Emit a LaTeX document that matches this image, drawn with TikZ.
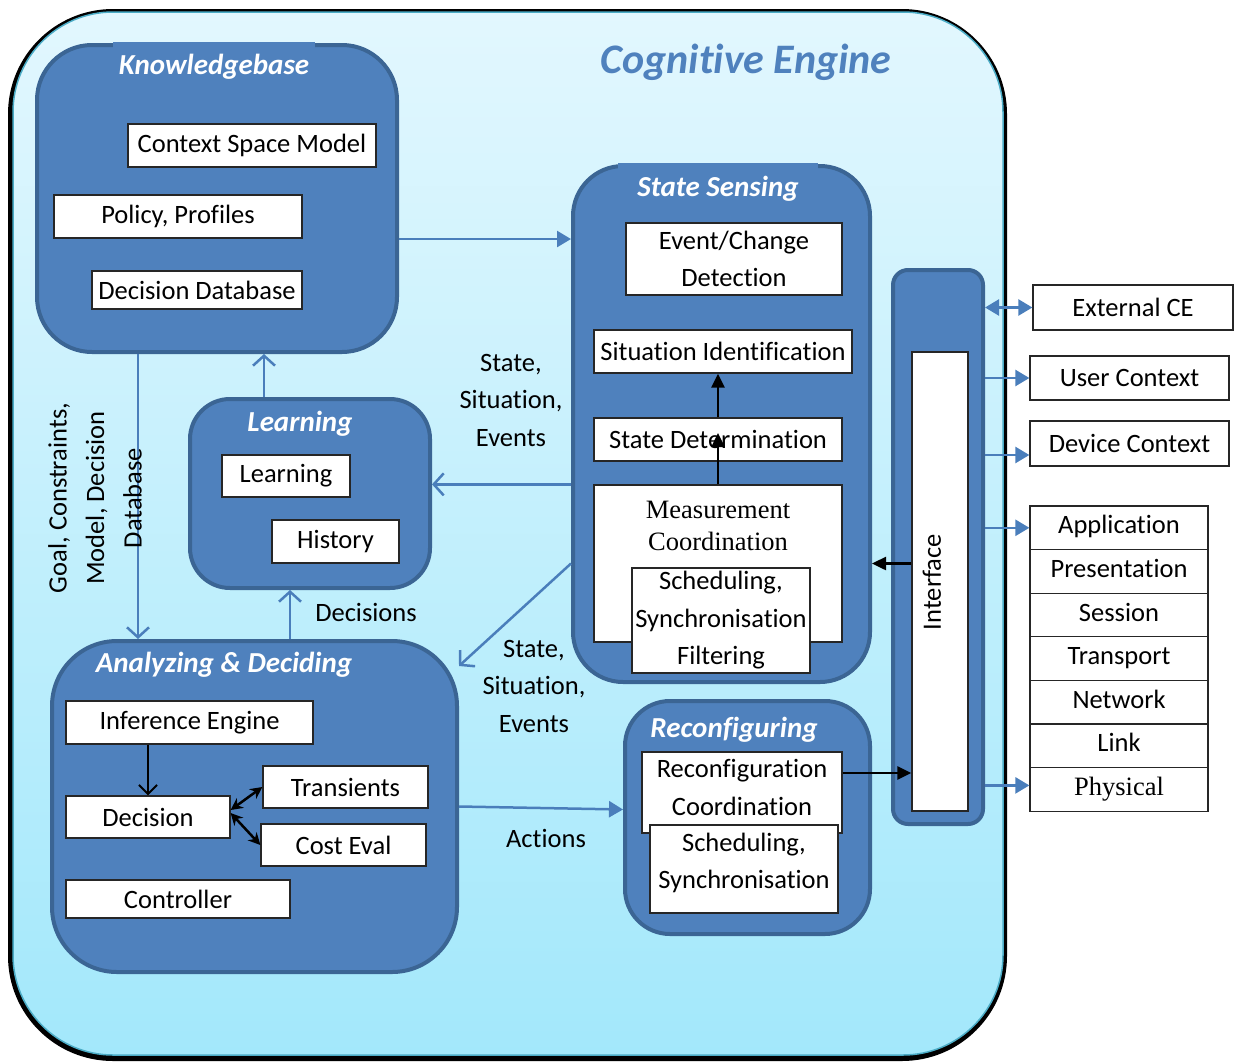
\documentclass[tikz,border=0pt]{standalone}
\usepackage{fontspec}
\setmainfont{Carlito}[Ligatures={NoCommon}]
\newfontfamily\timesfont{Liberation Serif}
\usetikzlibrary{arrows.meta}

\definecolor{modblue}{HTML}{4F81BD}
\definecolor{modborder}{HTML}{3B6594}
\definecolor{arrowblue}{HTML}{4A7EBB}
\definecolor{bgtop}{HTML}{E2F7FE}
\definecolor{bgbot}{HTML}{A3E8FB}
\definecolor{edgecyan}{HTML}{4BACC6}
\definecolor{titleblue}{HTML}{4F81BD}

\begin{document}
\begin{tikzpicture}[x=1pt,y=-1pt]
	\tikzstyle{module} = [draw=modborder, fill=modblue, line width=4pt, inner sep=0pt];
	\tikzstyle{item} = [draw=black!85, fill=white, line width=1.3pt, inner sep=0pt, align=center, font={\fontsize{26.5}{37.5}\selectfont}];
	\tikzstyle{head} = [text=white, inner sep=0pt, font={\fontsize{29}{32}\selectfont\bfseries\itshape}];
	\tikzstyle{note} = [align=center, inner sep=0pt, font={\fontsize{26.5}{37.5}\selectfont}];
	\tikzstyle{feed} = [-{Straight Barb[length=10pt,width=22pt]}, arrowblue, line width=2.5pt];
	\tikzstyle{push} = [-{Triangle[length=14pt,width=16pt]}, arrowblue, line width=2.5pt];
	\tikzstyle{ctrl} = [-{Triangle[length=14pt,width=13pt]}, black, line width=2.5pt];

	\useasboundingbox (0,0) rectangle (1234,1063);

	% cognitive engine frame
	\fill[black, rounded corners=105pt] (8,9) rectangle (1007,1061);
	\shade[top color=bgtop, bottom color=bgbot, draw=edgecyan, line width=1.5pt, rounded corners=100pt] (13,12) rectangle (1003,1055);
	\node[font={\fontsize{42}{44}\selectfont\bfseries\itshape}, text=titleblue] (title) at (746,62) {Cognitive Engine};

	% knowledgebase
	\node[module, rounded corners=55pt, minimum width=360pt, minimum height=307pt] (kb) at (217,198.5) {};
	\node[head, fill=modblue, minimum width=202pt, minimum height=50pt] (kbhead) at (214,67) {Knowledgebase};
	\node[item, minimum width=248pt, minimum height=43pt] (csm) at (252,145.5) {Context Space Model};
	\node[item, minimum width=248pt, minimum height=43pt] (pol) at (178,216.5) {Policy, Profiles};
	\node[item, minimum width=210pt, minimum height=38pt] (ddb) at (197,290) {Decision Database};

	% state sensing
	\node[module, rounded corners=50pt, minimum width=297pt, minimum height=516pt] (ss) at (721.5,424) {};
	\node[head, fill=modblue, minimum width=200pt, minimum height=52pt] (sshead) at (718,189) {State Sensing};
	\node[item, minimum width=216pt, minimum height=72pt] (evd) at (734,259) {Event/Change\\Detection};
	\node[item, minimum width=258pt, minimum height=43pt] (sit) at (723,351.5) {Situation Identification};
	\node[item, minimum width=248pt, minimum height=43pt] (sdt) at (718,439.5) {State Determination};
	\node[item, minimum width=248pt, minimum height=157pt] (meas) at (718,563.5) {};
	\node[note, font={\timesfont\fontsize{26.5}{32}\selectfont}] (meastext) at (718,526) {Measurement\\Coordination};
	\node[item, minimum width=178pt, minimum height=105pt] (msch) at (721,620.5) {Scheduling,\\Synchronisation\\Filtering};
	\draw[ctrl] (sdt.north) -- (sdt.north |- sit.south);
	\draw[ctrl] (meas.north) -- ([yshift=6.5pt]sdt.center);

	% learning
	\node[module, rounded corners=40pt, minimum width=240pt, minimum height=189pt] (lm) at (310,493.5) {};
	\node[head] (lmhead) at (300,424) {Learning};
	\node[item, minimum width=128pt, minimum height=42pt] (lrn) at (286,476) {Learning};
	\node[item, minimum width=127pt, minimum height=43pt] (hist) at (335.5,541.5) {History};

	% analyzing and deciding
	\node[module, rounded corners=65pt, minimum width=405pt, minimum height=331pt] (ad) at (254.5,806.5) {};
	\node[head] (adhead) at (224,665) {Analyzing \& Deciding};
	\node[item, minimum width=247pt, minimum height=43pt] (inf) at (189.5,722.5) {Inference Engine};
	\node[item, minimum width=164pt, minimum height=42pt] (dec) at (148,817) {Decision};
	\node[item, minimum width=165pt, minimum height=42pt] (trn) at (345.5,787) {Transients};
	\node[item, minimum width=165pt, minimum height=42pt] (cost) at (343.5,845) {Cost Eval};
	\node[item, minimum width=224pt, minimum height=38pt] (ctl) at (178,899) {Controller};
	\draw[-{Straight Barb[length=9pt,width=18pt]}, black, line width=2pt] (dec.north |- inf.south) -- (dec.north);
	\draw[{Stealth[length=12pt,width=12pt]}-{Stealth[length=12pt,width=12pt]}, black, line width=2.5pt] ([yshift=7pt]dec.east) -- (trn.west);
	\draw[{Stealth[length=12pt,width=12pt]}-{Stealth[length=12pt,width=12pt]}, black, line width=2.5pt] ([yshift=4pt]dec.east) -- (cost.west);

	% reconfiguring
	\node[module, rounded corners=45pt, minimum width=245pt, minimum height=233pt] (rc) at (747.5,817.5) {};
	\node[head] (rchead) at (734,730) {Reconfiguring};
	\node[item, minimum width=200pt, minimum height=81pt] (rcc) at (742,792.5) {};
	\node[note] (rcctext) at (742,787.5) {Reconfiguration\\Coordination};
	\node[item, minimum width=188pt, minimum height=88pt] (rsch) at (744,869) {};
	\node[note] (rschtext) at (744,863) {Scheduling,\\Synchronisation};

	% interface
	\node[module, rounded corners=15pt, minimum width=90pt, minimum height=554pt] (ifc) at (938,547) {};
	\node[item, minimum width=56pt, minimum height=459pt] (ifcin) at (940,581.5) {};
	\node[note, rotate=90] (ifctext) at (932,582) {Interface};
	\draw[ctrl] (ifcin.west |- meas.center) -- (ss.east |- meas.center);
	\draw[ctrl] ([yshift=19.5pt]rcc.east) -- ([yshift=19.5pt]rcc.east -| ifcin.west);

	% outside the engine
	\node[item, minimum width=200pt, minimum height=45pt] (ext) at (1133,307.5) {External CE};
	\node[item, minimum width=199pt, minimum height=44pt] (usr) at (1129.5,378) {User Context};
	\node[item, minimum width=199pt, minimum height=45pt] (dev) at (1129.5,443.5) {Device Context};
	\foreach \lyr [count=\i] in {Application,Presentation,Session,Transport,Network,Link} {
		\node[item, minimum width=178pt, minimum height=43.6pt, text height=18pt, text depth=6pt] (l\i) at (1119,{484.2+43.6*\i}) {\lyr};
	}
	\node[item, minimum width=178pt, minimum height=43.6pt, text height=18pt, text depth=6pt, font={\timesfont\fontsize{26.5}{30}\selectfont}] (l7) at (1119,789.4) {Physical};

	\draw[{Triangle[length=14pt,width=16pt]}-{Triangle[length=14pt,width=16pt]}, arrowblue, line width=2.5pt] (ifc.east |- ext.west) -- (ext.west);
	\draw[push] (ifc.east |- usr.west) -- (usr.west);
	\draw[push] ([yshift=-11.5pt]dev.west -| ifc.east) -- ([yshift=-11.5pt]dev.west);
	\draw[push] (ifc.east |- l1.west) -- (l1.west);
	\draw[push] ([yshift=4pt]l7.west -| ifc.east) -- ([yshift=4pt]l7.west);

	% flows between the modules
	\draw[push] ([yshift=-40.5pt]kb.east) -- ([yshift=-40.5pt]kb.east -| ss.west);
	\draw[feed] ([xshift=-46pt]lm.north) -- ([xshift=-46pt]lm.north |- kb.south);
	\draw[feed] (ss.west |- meas.north) -- (lm.east |- meas.north);
	\draw[feed] ([xshift=-20pt]lm.south |- ad.north) -- ([xshift=-20pt]lm.south);
	\draw[feed] ([xshift=-79pt]kb.south) -- ([xshift=-79pt]kb.south |- ad.north);
	\draw[feed] (ss.west |- meas.center) -- ([yshift=-27pt]ad.north east);
	\draw[push] (ad.east) -- ([yshift=8pt]rc.west);

	\node[note] (sensed) at (511,400) {State,\\Situation,\\Events};
	\node[note] (decided) at (366,612) {Decisions};
	\node[note] (reported) at (534,686) {State,\\Situation,\\Events};
	\node[note] (acted) at (546,838) {Actions};
	\node[note, rotate=90] (kbflow) at (95,498) {Goal, Constraints,\\Model, Decision\\Database};
\end{tikzpicture}
\end{document}
